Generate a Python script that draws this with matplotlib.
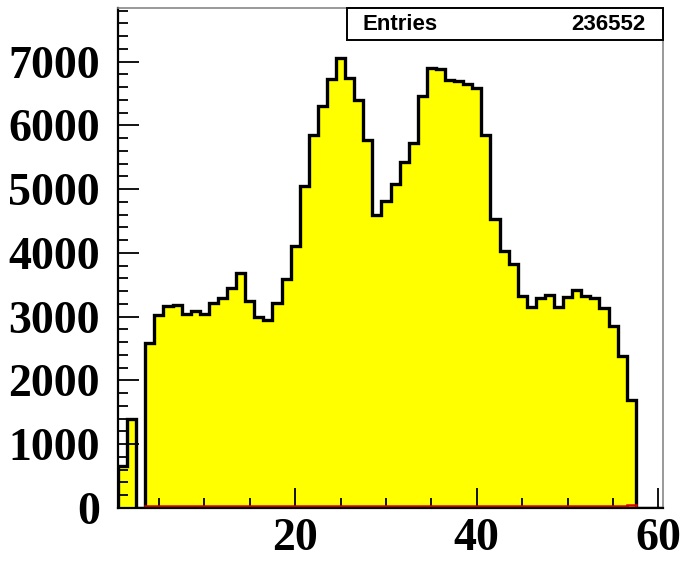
import numpy as np
import matplotlib
matplotlib.use("Agg")
import matplotlib.pyplot as plt
from matplotlib.ticker import MultipleLocator

# Bin edges: 60 bins of width 1 from 0.5 to 60.5
bin_lo = 0.5
bin_hi = 60.5
n_bins = 60

counts = [652, 1390, 0, 2589, 3031, 3172, 3188, 3042, 3084, 3037,
          3209, 3287, 3448, 3678, 3250, 2995, 2953, 3209, 3584, 4109,
          5047, 5844, 6297, 6725, 7053, 6740, 6402, 5766, 4600, 4810,
          5080, 5422, 5725, 6453, 6906, 6880, 6714, 6688, 6652, 6584,
          5844, 4527, 4031, 3823, 3328, 3156, 3292, 3344, 3156, 3313,
          3422, 3328, 3287, 3136, 2859, 2381, 1698, 0, 0, 0]

red_counts = [0, 0, 0, 25, 25, 25, 25, 25, 25, 25,
              25, 25, 25, 25, 25, 25, 25, 25, 25, 25,
              25, 25, 25, 25, 25, 25, 25, 25, 25, 25,
              25, 25, 25, 25, 25, 25, 25, 25, 25, 25,
              25, 25, 25, 25, 25, 25, 25, 25, 25, 25,
              25, 25, 25, 25, 25, 25, 50, 0, 0, 0]

entries_label = "Entries"
entries_value = "236552"

edges = np.linspace(bin_lo, bin_hi, n_bins + 1)

W, H = 683, 563
fig = plt.figure(figsize=(W / 100, H / 100), dpi=100)
ax = fig.add_axes([118 / W, 1 - 508 / H, (663 - 118) / W, (508 - 8) / H])

ax.stairs(counts, edges, fill=True, color="#ffff00", zorder=1)
ax.stairs(counts, edges, color="black", linewidth=2.4, zorder=2)
ax.stairs(red_counts, edges, color="#dd0000", linewidth=1.8, zorder=3)

ax.set_xlim(bin_lo, bin_hi)
ax.set_ylim(0, 7840)

ax.xaxis.set_major_locator(MultipleLocator(20))
ax.xaxis.set_minor_locator(MultipleLocator(5))
ax.yaxis.set_major_locator(MultipleLocator(1000))
ax.yaxis.set_minor_locator(MultipleLocator(200))

ax.tick_params(axis="both", which="both", direction="in", top=False, right=False,
               color="black", width=1.3)
ax.tick_params(axis="y", which="major", length=15, pad=13)
ax.tick_params(axis="y", which="minor", length=7.5)
ax.tick_params(axis="x", which="major", length=14.5, pad=7)
ax.tick_params(axis="x", which="minor", length=7.5)

for lab in ax.get_xticklabels() + ax.get_yticklabels():
    lab.set_fontfamily("Liberation Serif")
    lab.set_fontweight("bold")
    lab.set_fontsize(33)

ax.spines["left"].set_color("black")
ax.spines["left"].set_linewidth(1.6)
ax.spines["bottom"].set_color("black")
ax.spines["bottom"].set_linewidth(1.6)
ax.spines["top"].set_color("#888888")
ax.spines["top"].set_linewidth(1.2)
ax.spines["right"].set_color("#888888")
ax.spines["right"].set_linewidth(1.2)
for s in ax.spines.values():
    s.set_zorder(5)

# Stats box
bx0, bx1, by0, by1 = 347 / W, 663 / W, 1 - 40 / H, 1 - 8 / H
rect = plt.Rectangle((bx0, by0), bx1 - bx0, by1 - by0, transform=fig.transFigure,
                     facecolor="white", edgecolor="black", linewidth=1.4, zorder=10)
fig.add_artist(rect)
fig.text(363 / W, 1 - 24 / H, entries_label, ha="left", va="center",
         fontfamily="Liberation Sans", fontweight="bold", fontsize=16, zorder=11)
fig.text(645 / W, 1 - 24 / H, entries_value, ha="right", va="center",
         fontfamily="Liberation Sans", fontweight="bold", fontsize=16, zorder=11)

fig.savefig("out.png", dpi=100)
